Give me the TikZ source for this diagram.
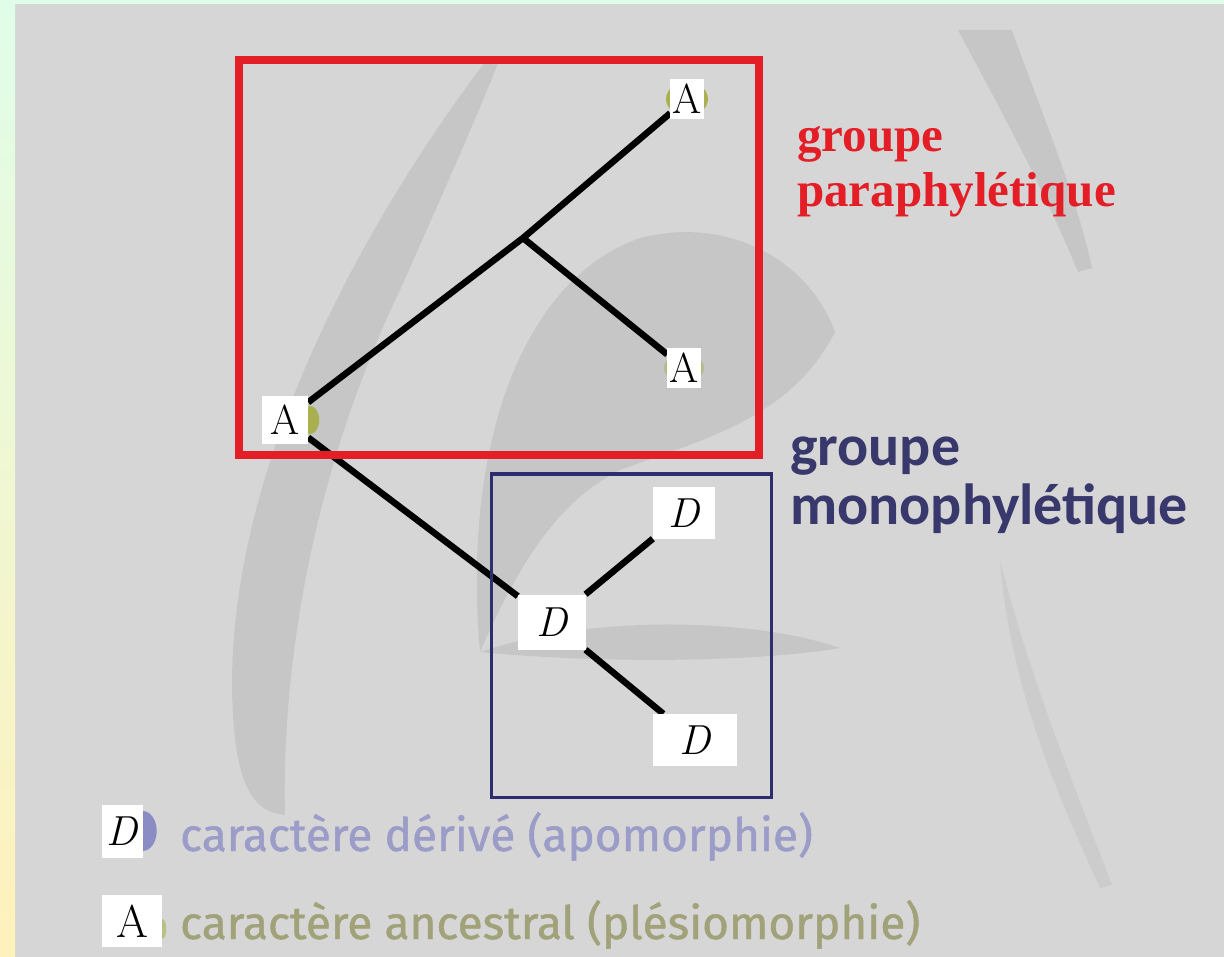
\documentclass[tikz,border=0pt]{standalone}
\usepackage{fontspec}
\newfontfamily\redfont{Liberation Serif}
\newfontfamily\navyfont{Carlito}
\newfontfamily\legfont{Fira Sans}[FakeBold=1]
\usetikzlibrary{backgrounds}
\definecolor{bggray}{HTML}{D6D6D6}
\definecolor{stripgreen}{HTML}{E0FDE9}
\definecolor{stripyellow}{HTML}{FFF1BB}
\definecolor{parared}{HTML}{E41E26}
\definecolor{navybox}{HTML}{2E2E6E}
\definecolor{navytext}{HTML}{38386C}
\definecolor{lavtext}{HTML}{9C9CC8}
\definecolor{lavmark}{HTML}{8C8CC4}
\definecolor{olivetext}{HTML}{A2A27A}
\definecolor{olivemark}{HTML}{A8B050}
\definecolor{swoosh}{HTML}{9A9A9A}
\begin{document}
\begin{tikzpicture}[x=1pt,y=-1pt,
  leafbox/.style={fill=white, inner sep=2pt, minimum width=32pt, minimum height=40pt,
    font=\fontsize{42}{42}\selectfont},
  dbox/.style={fill=white, inner sep=2pt, minimum width=62pt, minimum height=52pt,
    font=\fontsize{42}{42}\selectfont\itshape},
  branchline/.style={line width=6.5pt, black},
  redlabel/.style={anchor=base west, inner sep=0pt, text=parared,
    font=\redfont\bfseries\fontsize{49}{55}\selectfont},
  navylabel/.style={anchor=base west, inner sep=0pt, text=navytext,
    font=\navyfont\bfseries\fontsize{58}{60}\selectfont},
  leglabel/.style={anchor=base west, inner sep=0pt, font=\legfont\fontsize{46}{50}\selectfont},
  swooshfill/.style={fill=swoosh, opacity=0.25}
]
\useasboundingbox (0,0) rectangle (1224,957);

% tree nodes
\node[leafbox] (Atop) at (687,99) {A};
\node[leafbox] (Amid) at (684,368) {A};
\node[leafbox, minimum width=46pt, minimum height=48pt] (Aroot) at (285,420) {A};
\node[dbox, minimum width=68pt, minimum height=55pt] (Dmid) at (552,622) {D};
\node[dbox] (Dtop) at (684,513) {D};
\node[dbox, minimum width=84pt] (Dbot) at (695,740) {D};
\coordinate (br) at (523,238);

% legend
\node[fill=white, inner sep=0pt, minimum width=41pt, minimum height=53pt,
  font=\fontsize{42}{42}\selectfont\itshape] (legD) at (122,831) {D};
\node[fill=white, inner sep=0pt, minimum width=60pt, minimum height=52pt,
  font=\fontsize{46}{46}\selectfont] (legA) at (132,921) {A\hspace{20pt}};
\node[leglabel, text=lavtext] (legDtxt) at (180,851) {caractère dérivé (apomorphie)};
\node[leglabel, text=olivetext] (legAtxt) at (180,939) {caractère ancestral (plésiomorphie)};

% group labels
\node[redlabel] (para1) at (797,152) {groupe};
\node[redlabel] (para2) at (797,207) {paraphylétique};
\node[navylabel] (mono1) at (790,465) {groupe};
\node[navylabel] (mono2) at (790,524) {monophylétique};

\begin{scope}[on background layer]
  \fill[bggray] (0,0) rectangle (1224,957);
  \shade[top color=stripgreen, bottom color=stripyellow] (0,0) rectangle (15,957);
  \fill[stripgreen] (0,0) rectangle (1224,4);
  % background swooshes
  \fill[swooshfill] (488,58) .. controls (380,200) and (230,450) .. (232,690)
     .. controls (234,780) and (250,812) .. (285,815)
     .. controls (282,700) and (300,500) .. (400,290)
     .. controls (440,200) and (480,110) .. (500,58) -- cycle;
  \fill[swooshfill] (480,652) .. controls (462,450) and (520,280) .. (640,238)
     .. controls (730,215) and (810,262) .. (835,332)
     .. controls (790,420) and (700,440) .. (620,470)
     .. controls (560,500) and (520,560) .. (480,652) -- cycle;
  \fill[swooshfill] (480,652) .. controls (600,612) and (760,620) .. (840,648)
     .. controls (760,662) and (600,664) .. (480,652) -- cycle;
  \fill[swooshfill] (958,30) -- (1012,30) .. controls (1040,110) and (1075,190) .. (1092,268)
     -- (1078,272) .. controls (1040,180) and (995,100) .. (958,30) -- cycle;
  \fill[swooshfill, opacity=0.16] (1000,560) .. controls (1030,680) and (1080,800) .. (1112,885)
     -- (1100,888) .. controls (1060,800) and (1010,690) .. (1000,560) -- cycle;
  % character marks
  \fill[olivemark] (Atop) ellipse (21pt and 17pt);
  \fill[olivemark, opacity=0.5] (Amid) ellipse (20pt and 15pt);
  \fill[olivemark] ([xshift=2pt]Aroot.east) ellipse (9pt and 14pt);
  \fill[lavmark] (legD.east) ellipse (14pt and 20pt);
  \fill[olivemark, opacity=0.6] ([yshift=-8pt]legA.east) ellipse (4pt and 10pt);
  % branches
  \draw[branchline] (Aroot) -- (br) -- (Atop);
  \draw[branchline] (br) -- (Amid);
  \draw[branchline] (Aroot) -- (Dmid);
  \draw[branchline] (Dmid) -- (Dtop);
  \draw[branchline] (Dmid) -- (Dbot);
\end{scope}

% group frames
\draw[parared, line width=8pt] (239,60) rectangle (759,455);
\draw[navybox, line width=3pt] (491,474) rectangle (771,797);
\end{tikzpicture}
\end{document}
